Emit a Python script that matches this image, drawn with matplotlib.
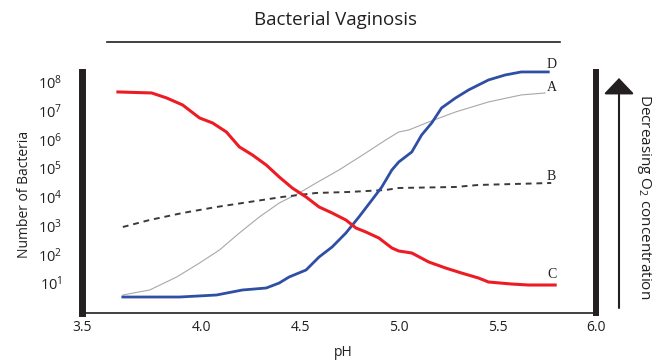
import numpy as np
import matplotlib
matplotlib.use("Agg")
import matplotlib.pyplot as plt
from matplotlib.ticker import FixedLocator, FixedFormatter, NullLocator

plt.rcParams['font.family'] = ['Open Sans', 'DejaVu Sans']
plt.rcParams['mathtext.fontset'] = 'custom'
plt.rcParams['mathtext.rm'] = 'Open Sans'
plt.rcParams['mathtext.it'] = 'Open Sans:italic'

INK = '#231f20'

# curve A (light grey)
ph_a = [3.601, 3.737, 3.874, 3.990, 4.091, 4.192, 4.293, 4.394, 4.495, 4.581,
        4.697, 4.833, 4.934, 5.000, 5.051, 5.152, 5.288, 5.455, 5.621, 5.742]
log_a = [0.582, 0.756, 1.209, 1.697, 2.150, 2.742, 3.300, 3.787, 4.136, 4.484,
         4.937, 5.530, 5.983, 6.261, 6.331, 6.610, 6.958, 7.307, 7.551, 7.620]

# curve B (dashed)
ph_b = [3.601, 3.737, 3.904, 4.076, 4.242, 4.409, 4.581, 4.747, 4.934, 5.000,
        5.288, 5.404, 5.773]
log_b = [2.951, 3.195, 3.439, 3.648, 3.822, 3.997, 4.136, 4.171, 4.240, 4.310,
         4.345, 4.415, 4.484]

# curve C (red)
ph_c = [3.576, 3.747, 3.823, 3.904, 3.990, 4.056, 4.126, 4.192, 4.258, 4.328,
        4.394, 4.460, 4.530, 4.596, 4.662, 4.732, 4.783, 4.833, 4.899, 4.965,
        5.000, 5.066, 5.152, 5.237, 5.318, 5.404, 5.455, 5.571, 5.657, 5.793]
log_c = [7.655, 7.620, 7.446, 7.202, 6.749, 6.575, 6.261, 5.739, 5.460, 5.111,
         4.693, 4.310, 3.997, 3.648, 3.439, 3.195, 2.916, 2.777, 2.568, 2.220,
         2.115, 2.045, 1.732, 1.523, 1.348, 1.174, 1.035, 0.965, 0.930, 0.930]

# curve D (blue)
ph_d = [3.601, 3.889, 4.076, 4.207, 4.328, 4.394, 4.444, 4.530, 4.596, 4.662,
        4.732, 4.798, 4.864, 4.914, 4.965, 5.000, 5.066, 5.116, 5.167, 5.217,
        5.288, 5.354, 5.455, 5.540, 5.621, 5.758]
log_d = [0.512, 0.512, 0.582, 0.756, 0.826, 1.000, 1.209, 1.453, 1.906, 2.254,
         2.742, 3.300, 3.892, 4.345, 4.937, 5.216, 5.564, 6.157, 6.575, 7.098,
         7.446, 7.725, 8.073, 8.247, 8.352, 8.352]

x_tick_labels = ['3.5', '4.0', '4.5', '5.0', '5.5', '6.0']
y_exponents = [1, 2, 3, 4, 5, 6, 7, 8]

# the drawn axis is not linear at its left end: "3.5" sits on the axis edge
XMIN, XMAX = 3.394, 6.0

fig = plt.figure(figsize=(6.63, 3.6), dpi=100)
ax = fig.add_axes([82 / 663, 1 - 313 / 360, (596 - 82) / 663, (313 - 72) / 360])

ax.plot(ph_a, 10 ** np.array(log_a), color='#a8a8a8', lw=0.8, clip_on=False)
ax.plot(ph_b, 10 ** np.array(log_b), color='#3a3a3a', lw=1.4, ls=(0, (3, 2.5)), clip_on=False)
ax.plot(ph_d, 10 ** np.array(log_d), color='#2f4fa5', lw=2.0, clip_on=False)
ax.plot(ph_c, 10 ** np.array(log_c), color='#ed1c24', lw=2.2, clip_on=False)

ax.set_yscale('log')
ax.set_xlim(XMIN, XMAX)
ax.set_ylim(10 ** -0.045, 10 ** 8.35)

ax.xaxis.set_major_locator(FixedLocator([XMIN, 4.0, 4.5, 5.0, 5.5, 6.0]))
ax.xaxis.set_major_formatter(FixedFormatter(x_tick_labels))
ax.yaxis.set_major_locator(FixedLocator([10.0 ** e for e in y_exponents]))
ax.yaxis.set_major_formatter(FixedFormatter([r'$\mathregular{10^{%d}}$' % e for e in y_exponents]))
ax.yaxis.set_minor_locator(NullLocator())
ax.tick_params(axis='x', length=0, pad=5, labelsize=10, colors=INK)
ax.tick_params(axis='y', length=0, pad=14, labelsize=10.5, colors=INK)

ax.spines['top'].set_visible(False)
ax.spines['left'].set_linewidth(5)
ax.spines['right'].set_linewidth(4.3)
ax.spines['bottom'].set_linewidth(1.2)
for s in ['left', 'right', 'bottom']:
    ax.spines[s].set_color(INK)

# curve letters
for lab, yv in [('D', 8.596), ('A', 7.794), ('B', 4.693), ('C', 1.279)]:
    ax.text(5.775, 10 ** yv, lab, family='Liberation Serif', fontsize=10,
            color=INK, ha='center', va='center')

fig.text(25 / 663, 1 - 194 / 360, 'Number of Bacteria', rotation=90,
         ha='center', va='center', fontsize=10, color=INK)
fig.text(343 / 663, 1 - 352 / 360, 'pH', ha='center', va='center',
         fontsize=10, color=INK)
fig.text(335 / 663, 1 - 20 / 360, 'Bacterial Vaginosis', ha='center',
         va='center', fontsize=13.5, color=INK)
fig.add_artist(plt.Line2D([107 / 663, 560 / 663], [1 - 42 / 360, 1 - 42 / 360],
                          color=INK, lw=1.2))

# oxygen arrow on the right
ax.annotate('', xy=(619, 360 - 78), xytext=(619, 360 - 308),
            xycoords='figure pixels', textcoords='figure pixels',
            arrowprops=dict(arrowstyle='-|>,head_length=1.0,head_width=0.95',
                            mutation_scale=10, lw=1.5, color=INK,
                            shrinkA=0, shrinkB=0))
fig.text(644 / 663, 1 - 197 / 360, r'Decreasing O$_2$ concentration',
         rotation=-90, ha='center', va='center', fontsize=11, color=INK)

fig.savefig('out.png', dpi=100)
